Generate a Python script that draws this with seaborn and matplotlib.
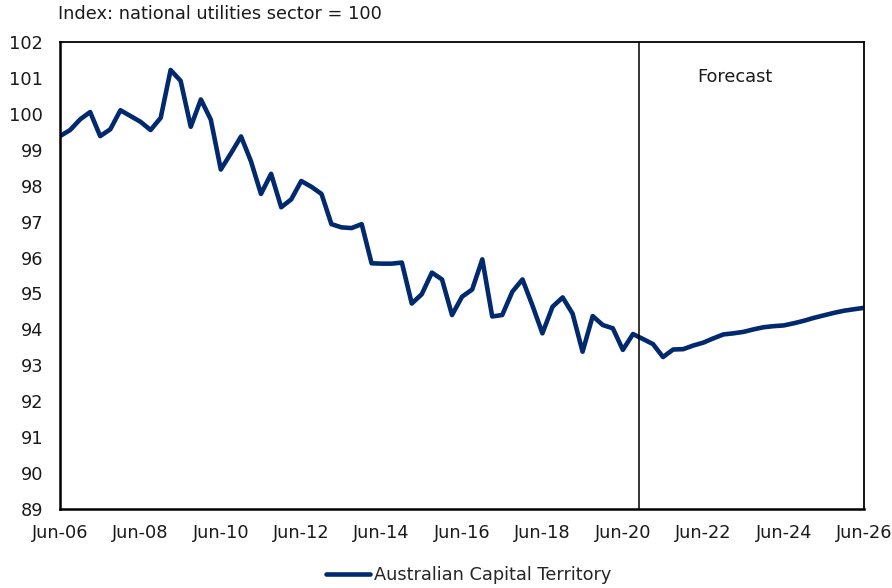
import matplotlib
matplotlib.use("Agg")
import matplotlib.pyplot as plt
import numpy as np
import pandas as pd
import seaborn as sns

# Quarterly index, Jun-2006 to Jun-2026 (history followed by forecast)
quarters = pd.date_range("2006-06-30", "2026-06-30", freq="QE")
act_index = [
    99.38, 99.55, 99.85, 100.05, 99.38, 99.57, 100.10, 99.94, 99.78, 99.55,
    99.89, 101.22, 100.92, 99.64, 100.40, 99.84, 98.45, 98.90, 99.37, 98.68,
    97.77, 98.33, 97.40, 97.62, 98.13, 97.97, 97.77, 96.93, 96.84, 96.82,
    96.93, 95.84, 95.83, 95.83, 95.86, 94.72, 94.98, 95.58, 95.39, 94.40,
    94.91, 95.11, 95.95, 94.36, 94.40, 95.05, 95.39, 94.67, 93.89, 94.63,
    94.89, 94.44, 93.38, 94.37, 94.12, 94.03, 93.43, 93.87, 93.73, 93.59,
    93.23, 93.44, 93.45, 93.55, 93.63, 93.75, 93.86, 93.89, 93.93, 94.00,
    94.06, 94.09, 94.11, 94.17, 94.24, 94.32, 94.39, 94.46, 94.52, 94.56,
    94.60,
]
series_name = "Australian Capital Territory"
y_ticks = list(range(89, 103))
tick_years = list(range(2006, 2027, 2))
forecast_start = pd.Timestamp("2020-11-28")

df = pd.DataFrame({"quarter": quarters, "value": act_index, "region": series_name})

sns.set_theme(style="white")
plt.rcParams["font.family"] = ["DejaVu Sans"]
FS = 12.8
TXT = "#1a1a1a"

fig = plt.figure(figsize=(8.92, 5.88), dpi=100)
ax = fig.add_axes([60 / 892, 1 - 509 / 588, 804 / 892, 467 / 588])

sns.lineplot(data=df, x="quarter", y="value", hue="region",
             palette=["#00296E"], linewidth=3.3, ax=ax)

ax.axvline(forecast_start, color="black", linewidth=1.1)
ax.text(pd.Timestamp("2023-04-10"), 101.03, "Forecast", ha="center", va="center",
        fontsize=FS, color=TXT)

ax.set_xlim(quarters[0], quarters[-1])
ax.set_ylim(89, 102)
ax.set_yticks(y_ticks)
ax.set_yticklabels([str(t) for t in y_ticks])

tick_dates = [pd.Timestamp(f"{y}-06-30") for y in tick_years]
ax.set_xticks(tick_dates)
ax.set_xticklabels([d.strftime("%b-%y") for d in tick_dates])

ax.set_xlabel("")
ax.set_ylabel("")
ax.tick_params(axis="both", direction="in", length=5, width=1.1,
               labelsize=FS, colors="black", labelcolor=TXT)
ax.tick_params(axis="x", pad=11)
ax.tick_params(axis="y", pad=12)

for side in ["left", "right", "top", "bottom"]:
    ax.spines[side].set_visible(True)
    ax.spines[side].set_color("black")
    ax.spines[side].set_linewidth(1.3)
ax.spines["left"].set_linewidth(1.8)
ax.spines["bottom"].set_linewidth(1.8)

fig.text(58 / 892, 1 - 14 / 588, "Index: national utilities sector = 100",
         ha="left", va="center", fontsize=FS, color=TXT)

leg = ax.legend(loc="center", bbox_to_anchor=(0.508, -0.142), frameon=False,
                fontsize=FS, handlelength=2.5, handletextpad=0.2)
for h in leg.get_lines():
    h.set_linewidth(3.3)

fig.savefig("out.png", dpi=100)
